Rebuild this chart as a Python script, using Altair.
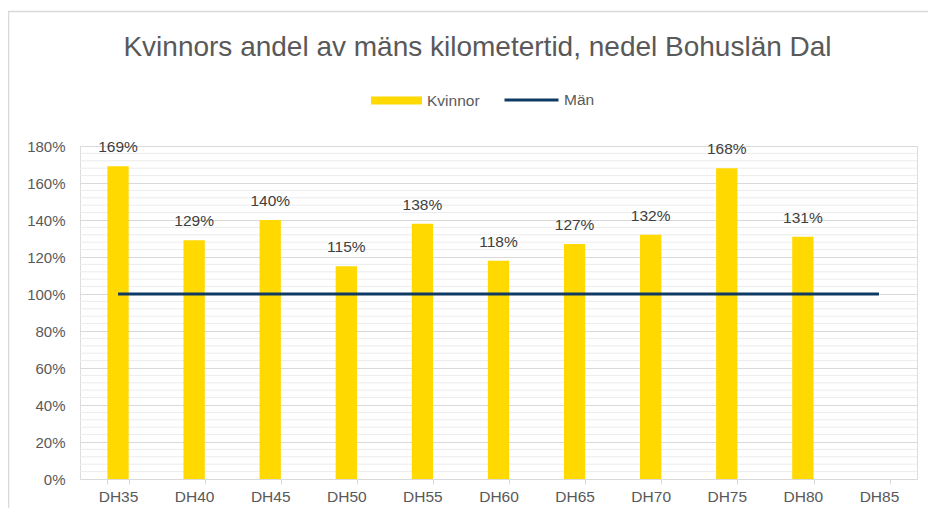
import altair as alt
import pandas as pd

categories = ["DH35", "DH40", "DH45", "DH50", "DH55", "DH60", "DH65", "DH70", "DH75", "DH80", "DH85"]
kvinnor = [1.69, 1.29, 1.40, 1.15, 1.38, 1.18, 1.27, 1.32, 1.68, 1.31, None]
man = [1.0, 1.0, 1.0, 1.0, 1.0, 1.0, 1.0, 1.0, 1.0, 1.0, 1.0]
major_ticks = [0.0, 0.2, 0.4, 0.6, 0.8, 1.0, 1.2, 1.4, 1.6, 1.8]
minor_ticks = [v / 100 for v in range(4, 180, 4) if v % 20 != 0]

TITLE = "Kvinnors andel av mäns kilometertid, nedel Bohuslän Dal"
FONT = "Liberation Sans"
YELLOW = "#FFD900"
NAVY = "#0E3A63"
GRAY_TXT = "#595959"

bars_df = pd.DataFrame({"kat": categories, "v": kvinnor, "serie": ["Kvinnor"] * len(categories)})
bars_df = bars_df.dropna()
line_df = pd.DataFrame({"kat": categories, "v": man, "serie": ["Män"] * len(categories)})
minor_df = pd.DataFrame({"m": minor_ticks})
frame_df = pd.DataFrame({"a": [0]})

W, H = 837, 333

xscale = alt.Scale(domain=categories, paddingInner=0.72, paddingOuter=0.36)
yscale = alt.Scale(domain=[0, 1.8], nice=False)

x_axis = alt.Axis(
    title=None, labelFont=FONT, labelFontSize=15.5, labelColor=GRAY_TXT,
    domainColor="#d9d9d9", domainWidth=1, tickColor="#d9d9d9", tickSize=5,
    tickBand="extent", labelPadding=5, labelAngle=0, grid=False,
)
y_axis = alt.Axis(
    title=None, values=major_ticks, format=".0%", labelFont=FONT, labelFontSize=15,
    labelColor=GRAY_TXT, domain=False, ticks=False, labelPadding=15,
    grid=True, gridColor="#d9d9d9", gridWidth=1,
)

frame = alt.Chart(frame_df).mark_rect(
    fillOpacity=0, stroke="#d9d9d9", strokeWidth=1.5
).encode(
    x=alt.value(-71.5), x2=alt.value(W + 200), y=alt.value(-134.5), y2=alt.value(H + 200)
)

minor = alt.Chart(minor_df).mark_rule(color="#ececec", strokeWidth=1).encode(
    y=alt.Y("m:Q", scale=yscale, axis=y_axis)
)

bars = alt.Chart(bars_df).mark_bar().encode(
    x=alt.X("kat:N", scale=xscale, axis=x_axis, sort=categories),
    y=alt.Y("v:Q", scale=yscale, axis=y_axis),
    fill=alt.Fill(
        "serie:N",
        scale=alt.Scale(domain=["Kvinnor"], range=[YELLOW]),
        legend=alt.Legend(
            title=None, orient="none", legendX=291, legendY=-71, padding=0,
            symbolType="M-1,-0.16H1V0.16H-1Z", symbolSize=2601, symbolStrokeWidth=0,
            labelFont=FONT, labelFontSize=15.5, labelColor=GRAY_TXT, labelOffset=5,
        ),
    ),
)

labels = alt.Chart(bars_df).mark_text(
    dy=-14, baseline="alphabetic", font=FONT, fontSize=15.5, color="#404040"
).encode(
    x=alt.X("kat:N", scale=xscale, axis=x_axis, sort=categories),
    y=alt.Y("v:Q", scale=yscale, axis=y_axis),
    text=alt.Text("v:Q", format=".0%"),
)

line = alt.Chart(line_df).mark_line(strokeWidth=3).encode(
    x=alt.X("kat:N", scale=xscale, axis=x_axis, sort=categories),
    y=alt.Y("v:Q", scale=yscale, axis=y_axis),
    stroke=alt.Stroke(
        "serie:N",
        scale=alt.Scale(domain=["Män"], range=[NAVY]),
        legend=alt.Legend(
            title=None, orient="none", legendX=423, legendY=-74.5, padding=0,
            symbolType="stroke", symbolSize=2916, symbolStrokeWidth=3,
            labelFont=FONT, labelFontSize=15.5, labelColor=GRAY_TXT, labelOffset=4,
        ),
    ),
)

chart = alt.layer(frame, minor, bars, line, labels).resolve_scale(
    fill="independent", stroke="independent"
).properties(
    width=W, height=H,
    autosize=alt.AutoSizeParams(type="none"),
    padding={"left": 72, "top": 138, "right": 11, "bottom": 29},
    title=alt.TitleParams(
        text=TITLE, font=FONT, fontSize=28, fontWeight="normal", color=GRAY_TXT,
        anchor="middle", frame="group", dx=-21, dy=51, offset=0,
    ),
).configure_view(stroke=None).configure(background="white")

chart.save("out.html", embed_options={"renderer": "svg", "actions": False})
